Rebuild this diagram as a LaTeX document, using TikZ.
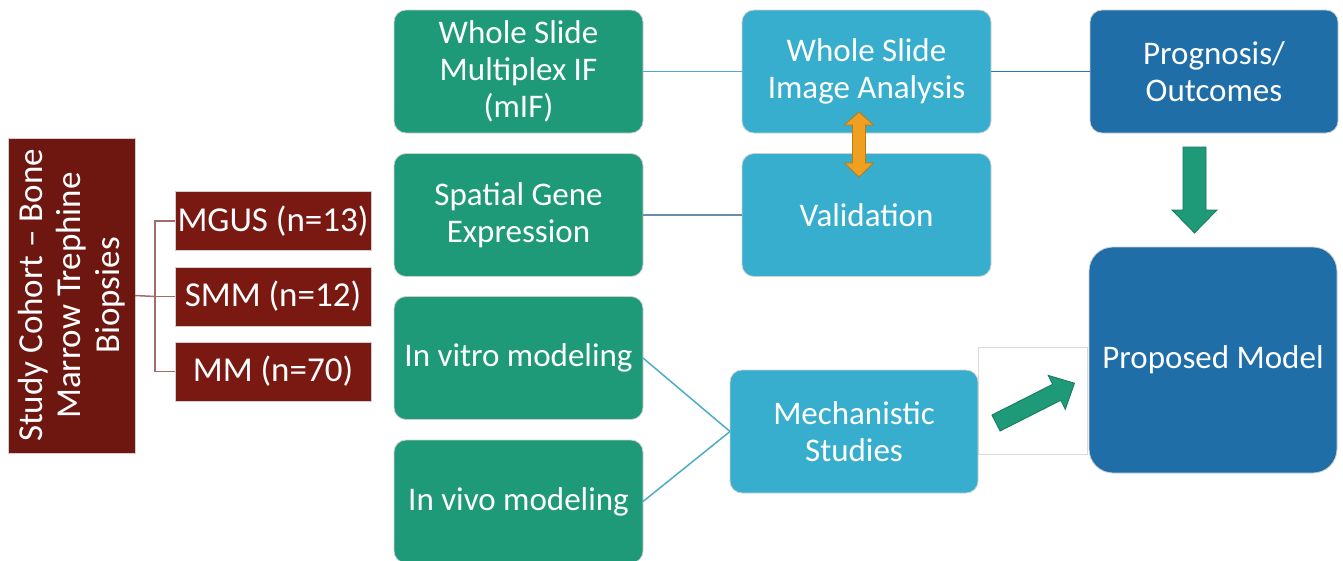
\documentclass[tikz,border=0pt]{standalone}
\usepackage{fontspec}
\setmainfont{Carlito}
\definecolor{cohortred}{HTML}{6E1610}
\definecolor{labred}{HTML}{7A1812}
\definecolor{techgreen}{HTML}{1F9A78}
\definecolor{anablue}{HTML}{38AECE}
\definecolor{outblue}{HTML}{1F6EA8}
\definecolor{edgegray}{HTML}{CFCFCF}
\definecolor{framegray}{HTML}{DADADA}
\definecolor{linkred}{HTML}{A56A6C}
\definecolor{linkblue}{HTML}{4BACC6}
\definecolor{linkdark}{HTML}{2E75B6}
\definecolor{linkgray}{HTML}{6A8CA8}
\definecolor{swapfill}{HTML}{F0A020}
\definecolor{swapedge}{HTML}{C07810}
\definecolor{arrowedge}{HTML}{16775C}
\begin{document}
\begin{tikzpicture}[x=1pt,y=-1pt,
  txt/.style={text=white, align=center, font=\fontsize{33}{37}\selectfont,
    inner sep=0pt, outer sep=0pt},
  bigtxt/.style={txt, font=\fontsize{35}{38.5}\selectfont},
  redbox/.style={bigtxt, fill=labred, draw=edgegray, line width=0.8pt,
    minimum width=196pt, minimum height=59pt},
  greenbox/.style={txt, fill=techgreen, draw=edgegray, line width=0.8pt,
    rounded corners=12pt, minimum width=249pt, minimum height=123pt},
  bluebox/.style={txt, fill=anablue, draw=edgegray, line width=0.8pt,
    rounded corners=12pt, minimum width=249pt, minimum height=123pt},
  darkbox/.style={txt, fill=outblue, draw=edgegray, line width=0.8pt,
    rounded corners=12pt, minimum width=248pt, minimum height=123pt},
  link/.style={line width=1.5pt}
]
\useasboundingbox (0,0) rectangle (1343,560);

% cohort and its groups
\node[bigtxt, fill=cohortred, draw=edgegray, line width=0.8pt,
  minimum width=315pt, minimum height=127pt, rotate=90]
  (cohort) at (71.5,295.5) {Study Cohort -- Bone\\Marrow Trephine\\Biopsies};
\node[redbox] (mgus) at (273,221) {MGUS (n=13)};
\node[redbox] (smm)  at (273,296.5) {SMM (n=12)};
\node[redbox] (mm)   at (273,371.5) {MM (n=70)};

\coordinate (fork) at (155,296.5);
\draw[link, linkred] (cohort.south) -- (fork);
\draw[link, linkred] (mgus.west) -| (fork);
\draw[link, linkred] (mm.west) -| (fork);
\draw[link, linkred] (smm.west) -- (fork);

% data generation
\node[greenbox] (mif)   at (518.5,71.5)  {Whole Slide\\Multiplex IF\\(mIF)};
\node[greenbox] (sge)   at (518.5,215)   {Spatial Gene\\Expression};
\node[greenbox] (vitro) at (518.5,358)   {In vitro modeling};
\node[greenbox] (vivo)  at (518.5,501.5) {In vivo modeling};

% analysis
\node[bluebox] (wsia) at (866.5,71.5) {Whole Slide\\Image Analysis};
\node[bluebox] (val)  at (866.5,215)  {Validation};

% backdrop frame behind the mechanistic block
\draw[framegray, line width=0.6pt, fill=white] (978,347) rectangle (1087,454);

\node[bluebox, minimum width=248pt] (mech) at (854,431.5) {Mechanistic\\Studies};

% outcomes
\node[darkbox] (prog) at (1214,71.5) {Prognosis/\\Outcomes};
\node[darkbox, minimum height=226pt, rounded corners=24pt] (model) at (1213,360) {Proposed Model};

% connectors
\draw[link, linkblue] (mif.east) -- (wsia.west);
\draw[link, linkdark] (wsia.east) -- (prog.west);
\draw[link, linkgray] (sge.east) -- (val.west);
\draw[link, linkblue] (vitro.east) -- (mech.west);
\draw[link, linkblue] (vivo.east) -- (mech.west);

% two-way arrow between image analysis and validation
\draw[fill=swapfill, draw=swapedge, line width=0.8pt]
  (859,112) -- (873.5,125) -- (865.5,125) -- (865.5,163) -- (873.5,163)
  -- (859,177) -- (844.5,163) -- (852.5,163) -- (852.5,125) -- (844.5,125) -- cycle;

% block arrow from prognosis down to the model
\draw[fill=techgreen, draw=arrowedge, line width=0.8pt]
  (1183,147) -- (1206,147) -- (1206,210) -- (1217,210) -- (1194.5,233)
  -- (1172,210) -- (1183,210) -- cycle;

% block arrow from mechanistic studies to the model
\draw[fill=techgreen, draw=arrowedge, line width=0.8pt]
  (991.9,415.0) -- (1052.6,384.3) -- (1048.1,375.3) -- (1074.5,383.2)
  -- (1065.3,409.3) -- (1060.8,400.3) -- (1000.1,431.0) -- cycle;
\end{tikzpicture}
\end{document}
